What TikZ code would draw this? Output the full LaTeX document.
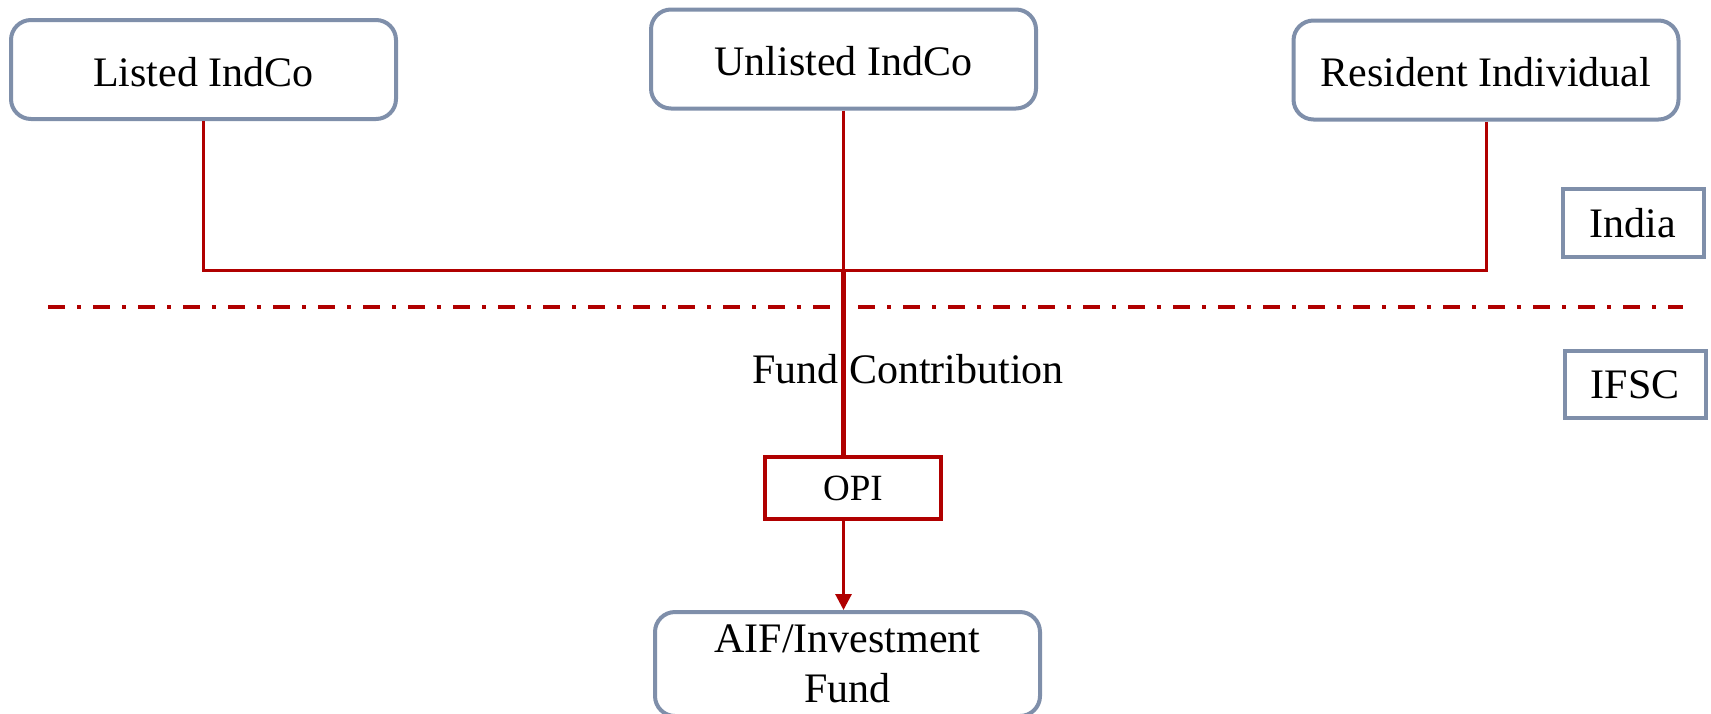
\documentclass[tikz,border=0pt]{standalone}
\usepackage{fontspec}
\setmainfont{Liberation Serif}
\usepackage{tikz}
\usetikzlibrary{positioning, arrows.meta}
\definecolor{slateedge}{HTML}{7F8FAA}
\definecolor{flowred}{HTML}{B00000}

\begin{document}
\begin{tikzpicture}[
  x=0.5pt, y=-0.5pt,
  every node/.style={font=\fontsize{21}{25}\selectfont, text=black},
  entity/.style={
    draw=slateedge,
    line width=2pt,
    rounded corners=10pt,
    minimum width=192.5pt,
    minimum height=49.5pt,
    fill=white,
    inner sep=0pt,
  },
  toprow/.style={
    entity,
    text height=16.8pt,
    text depth=0pt,
  },
  region/.style={
    draw=slateedge,
    line width=2pt,
    minimum width=70.5pt,
    minimum height=33.75pt,
    fill=white,
    inner sep=0pt,
  },
  vehicle/.style={
    draw=flowred,
    line width=2pt,
    minimum width=88pt,
    minimum height=31pt,
    fill=white,
    inner sep=0pt,
    font=\fontsize{18.5}{22}\selectfont,
  },
  feed/.style={
    draw=flowred,
    line width=1.5pt,
  },
  border/.style={
    draw=flowred,
    line width=2pt,
    dash pattern=on 8.5pt off 6pt on 2pt off 6pt,
  },
]
  \useasboundingbox (0,0) rectangle (1711,713);

  \node[toprow] (listed) at (203.5,69.5) {Listed IndCo};
  \node[toprow] (unlisted) at (843.5,59) {Unlisted IndCo};
  \node[toprow] (resident) at (1486,70) {Resident Individual};
  \node[region] (india) at (1633,223) {India};
  \node[region] (ifsc) at (1635,384.5) {IFSC};
  \node[vehicle] (opi) at (853,488) {OPI};
  \node[entity, align=center, minimum height=52pt] (aif) at (847.5,664) {AIF/Investment\\Fund};
  \node (contrib) at (908,369) {Fund Contribution};

  \coordinate (hub) at (unlisted.south |- 0,270);
  \coordinate (lineL) at (48,307);
  \coordinate (lineR) at (1683,307);

  \draw[border] (lineL) -- (lineR);

  \draw[feed] (listed.south) |- (hub);
  \draw[feed] (resident.south) |- (hub);
  \draw[feed] (unlisted.south) -- (hub);
  \draw[feed, line width=2.5pt] (hub) -- (hub |- opi.north);
  \draw[feed, -{Triangle[length=8pt, width=8pt]}] (opi.south -| hub) -- (hub |- aif.north);
\end{tikzpicture}
\end{document}
